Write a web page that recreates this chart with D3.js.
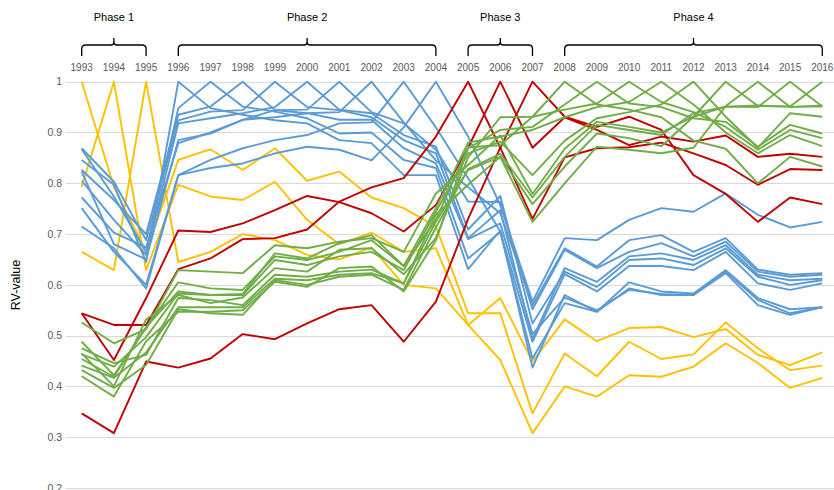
<!DOCTYPE html>
<html>
<head>
<meta charset="utf-8">
<script src="https://cdn.jsdelivr.net/npm/d3@7"></script>
<style>
  html, body { margin: 0; padding: 0; background: #fff; }
  svg { display: block; font-family: "Liberation Sans", Arial, sans-serif; }
  .grid line { stroke: #d9d9d9; stroke-width: 1; }
  .tick-label { fill: #595959; font-size: 10.5px; }
  .year-label { fill: #595959; font-size: 10px; }
  .phase-label { fill: #000; font-size: 11px; }
  .brace { fill: none; stroke: #000; stroke-width: 1.3; }
  .series { fill: none; stroke-width: 1.9; stroke-linejoin: round; }
</style>
</head>
<body>
<svg id="chart" width="834" height="490"></svg>
<script>
  // RV-values, one line per year (1 on its own year)
  const years = [1993, 1994, 1995, 1996, 1997, 1998, 1999, 2000, 2001, 2002, 2003, 2004,
                 2005, 2006, 2007, 2008, 2009, 2010, 2011, 2012, 2013, 2014, 2015, 2016];

  const phase1Lines = [
    [1, 0.793, 0.665, 0.846, 0.867, 0.826, 0.869, 0.805, 0.823, 0.772, 0.751, 0.715, 0.544, 0.544, 0.347, 0.465, 0.42, 0.488, 0.454, 0.463, 0.526, 0.475, 0.432, 0.441],
    [0.793, 1, 0.629, 0.797, 0.774, 0.767, 0.803, 0.728, 0.68, 0.703, 0.665, 0.672, 0.521, 0.452, 0.308, 0.40, 0.38, 0.422, 0.419, 0.439, 0.485, 0.446, 0.397, 0.417],
    [0.665, 0.629, 1, 0.645, 0.665, 0.70, 0.688, 0.659, 0.65, 0.674, 0.60, 0.593, 0.521, 0.574, 0.449, 0.532, 0.489, 0.515, 0.517, 0.497, 0.513, 0.462, 0.442, 0.467]
  ];

  const phase2Lines = [
    [0.846, 0.797, 0.645, 1, 0.948, 0.935, 0.924, 0.918, 0.885, 0.879, 0.816, 0.816, 0.631, 0.707, 0.437, 0.58, 0.547, 0.605, 0.587, 0.583, 0.629, 0.574, 0.552, 0.556],
    [0.867, 0.774, 0.665, 0.948, 1, 0.951, 0.941, 0.928, 0.898, 0.90, 0.846, 0.83, 0.652, 0.704, 0.455, 0.564, 0.547, 0.593, 0.58, 0.58, 0.626, 0.57, 0.544, 0.556],
    [0.826, 0.767, 0.70, 0.935, 0.951, 1, 0.944, 0.938, 0.925, 0.925, 0.869, 0.839, 0.69, 0.721, 0.503, 0.575, 0.55, 0.59, 0.582, 0.58, 0.623, 0.56, 0.541, 0.556],
    [0.869, 0.803, 0.688, 0.924, 0.941, 0.944, 1, 0.95, 0.944, 0.93, 0.885, 0.859, 0.692, 0.747, 0.493, 0.633, 0.606, 0.656, 0.662, 0.649, 0.678, 0.62, 0.609, 0.612],
    [0.805, 0.728, 0.659, 0.918, 0.928, 0.938, 0.95, 1, 0.945, 0.938, 0.895, 0.872, 0.709, 0.775, 0.524, 0.626, 0.596, 0.649, 0.652, 0.639, 0.672, 0.616, 0.60, 0.609],
    [0.823, 0.68, 0.65, 0.885, 0.898, 0.925, 0.944, 0.945, 1, 0.94, 0.918, 0.866, 0.764, 0.763, 0.552, 0.669, 0.633, 0.665, 0.682, 0.656, 0.685, 0.626, 0.616, 0.62],
    [0.772, 0.703, 0.674, 0.879, 0.90, 0.925, 0.93, 0.938, 0.94, 1, 0.92, 0.845, 0.792, 0.741, 0.56, 0.672, 0.636, 0.688, 0.698, 0.665, 0.692, 0.63, 0.62, 0.623],
    [0.751, 0.665, 0.60, 0.816, 0.846, 0.869, 0.885, 0.895, 0.918, 0.92, 1, 0.91, 0.81, 0.705, 0.488, 0.621, 0.587, 0.637, 0.637, 0.629, 0.665, 0.603, 0.59, 0.603],
    [0.715, 0.672, 0.593, 0.816, 0.83, 0.839, 0.859, 0.872, 0.866, 0.845, 0.91, 1, 0.892, 0.757, 0.567, 0.692, 0.688, 0.728, 0.751, 0.744, 0.78, 0.738, 0.713, 0.724]
  ];

  const phase3Lines = [
    [0.544, 0.521, 0.521, 0.631, 0.652, 0.69, 0.692, 0.709, 0.764, 0.792, 0.81, 0.892, 1, 0.87, 0.73, 0.851, 0.869, 0.871, 0.88, 0.859, 0.836, 0.797, 0.828, 0.826],
    [0.544, 0.452, 0.574, 0.707, 0.704, 0.721, 0.747, 0.775, 0.763, 0.741, 0.705, 0.757, 0.87, 1, 0.87, 0.93, 0.905, 0.875, 0.892, 0.882, 0.894, 0.852, 0.858, 0.852],
    [0.347, 0.308, 0.449, 0.437, 0.455, 0.503, 0.493, 0.524, 0.552, 0.56, 0.488, 0.567, 0.73, 0.87, 1, 0.931, 0.911, 0.931, 0.905, 0.816, 0.779, 0.724, 0.772, 0.759]
  ];

  const phase4Lines = [
    [0.465, 0.40, 0.532, 0.58, 0.564, 0.575, 0.633, 0.626, 0.669, 0.672, 0.621, 0.692, 0.851, 0.93, 0.931, 1, 0.955, 0.945, 0.93, 0.884, 0.868, 0.80, 0.852, 0.833],
    [0.42, 0.38, 0.489, 0.547, 0.547, 0.55, 0.606, 0.596, 0.633, 0.636, 0.587, 0.688, 0.869, 0.905, 0.911, 0.955, 1, 0.957, 0.95, 0.928, 0.921, 0.872, 0.915, 0.898],
    [0.488, 0.422, 0.515, 0.605, 0.593, 0.59, 0.656, 0.649, 0.665, 0.688, 0.637, 0.728, 0.871, 0.875, 0.931, 0.945, 0.957, 1, 0.96, 0.94, 0.911, 0.866, 0.905, 0.889],
    [0.454, 0.419, 0.517, 0.587, 0.58, 0.582, 0.662, 0.652, 0.682, 0.698, 0.637, 0.751, 0.88, 0.892, 0.905, 0.93, 0.95, 0.96, 1, 0.955, 0.90, 0.859, 0.895, 0.873],
    [0.463, 0.439, 0.497, 0.583, 0.58, 0.58, 0.649, 0.639, 0.656, 0.665, 0.629, 0.744, 0.859, 0.882, 0.816, 0.884, 0.928, 0.94, 0.955, 1, 0.931, 0.87, 0.938, 0.931],
    [0.526, 0.485, 0.513, 0.629, 0.626, 0.623, 0.678, 0.672, 0.685, 0.692, 0.665, 0.78, 0.836, 0.894, 0.779, 0.868, 0.921, 0.911, 0.90, 0.931, 1, 0.952, 0.951, 0.951],
    [0.475, 0.446, 0.462, 0.574, 0.57, 0.56, 0.62, 0.616, 0.626, 0.63, 0.603, 0.738, 0.797, 0.852, 0.724, 0.80, 0.872, 0.866, 0.859, 0.87, 0.952, 1, 0.95, 0.953],
    [0.432, 0.397, 0.442, 0.552, 0.544, 0.541, 0.609, 0.60, 0.616, 0.62, 0.59, 0.713, 0.828, 0.858, 0.772, 0.852, 0.915, 0.905, 0.895, 0.938, 0.951, 0.95, 1, 0.951],
    [0.441, 0.417, 0.467, 0.556, 0.556, 0.556, 0.612, 0.609, 0.62, 0.623, 0.603, 0.724, 0.826, 0.852, 0.759, 0.833, 0.898, 0.889, 0.873, 0.931, 0.951, 0.953, 0.951, 1]
  ];

  const phaseNames = ['Phase 1', 'Phase 2', 'Phase 3', 'Phase 4'];
  const phaseFirst = [1993, 1996, 2005, 2008];
  const phaseLast = [1995, 2004, 2007, 2016];
  const phaseMiddle = [1994, 2000, 2006, 2012];
  const phaseColors = ['#FFC000', '#5B9BD5', '#C00000', '#70AD47'];

  const yTicks = [1, 0.9, 0.8, 0.7, 0.6, 0.5, 0.4, 0.3, 0.2];

  const svg = d3.select('#chart');
  const W = 834;

  const x = d3.scalePoint().domain(years).range([81.7, 822.3]);
  const y = d3.scaleLinear().domain([0.2, 1]).range([488, 81.7]);
  const plotLeft = 65.6;

  // gridlines
  svg.append('g').attr('class', 'grid')
    .selectAll('line').data(yTicks).join('line')
    .attr('x1', plotLeft).attr('x2', W)
    .attr('y1', d => Math.round(y(d)) + 0.5).attr('y2', d => Math.round(y(d)) + 0.5);

  // value labels on the left
  svg.append('g').selectAll('text').data(yTicks).join('text')
    .attr('class', 'tick-label')
    .attr('x', 62).attr('y', d => y(d)).attr('dy', '0.35em')
    .attr('text-anchor', 'end')
    .text(d => d3.format('~g')(d));

  svg.append('text')
    .attr('transform', 'translate(20,285) rotate(-90)')
    .attr('text-anchor', 'middle')
    .style('font-size', '12.5px')
    .text('RV-value');

  // years along the top
  svg.append('g').selectAll('text').data(years).join('text')
    .attr('class', 'year-label')
    .attr('x', d => x(d)).attr('y', 70.5)
    .attr('text-anchor', 'middle')
    .text(d => d);

  // phase braces
  const bracePath = (i) => {
    const x0 = x(phaseFirst[i]), x1 = x(phaseLast[i]), xm = x(phaseMiddle[i]);
    const yb = 45, r = 4;
    return `M${x0},56 V${yb + r} Q${x0},${yb} ${x0 + r},${yb} H${xm - 3} Q${xm},${yb} ${xm},${yb - 3} V38`
      + ` M${xm},${yb - 3} Q${xm},${yb} ${xm + 3},${yb} H${x1 - r} Q${x1},${yb} ${x1},${yb + r} V56`;
  };
  const braces = svg.append('g');
  phaseNames.forEach((name, i) => {
    braces.append('path').attr('class', 'brace').attr('d', bracePath(i));
    braces.append('text').attr('class', 'phase-label')
      .attr('x', x(phaseMiddle[i])).attr('y', 21)
      .attr('text-anchor', 'middle').text(name);
  });

  // lines, drawn in year order
  const line = d3.line().x((d, i) => x(years[i])).y(d => y(d));
  const groups = [phase1Lines, phase2Lines, phase3Lines, phase4Lines];
  const linesG = svg.append('g');
  groups.forEach((rows, gi) => {
    rows.forEach(row => {
      linesG.append('path').attr('class', 'series')
        .attr('stroke', phaseColors[gi])
        .attr('d', line(row));
    });
  });
</script>
</body>
</html>
